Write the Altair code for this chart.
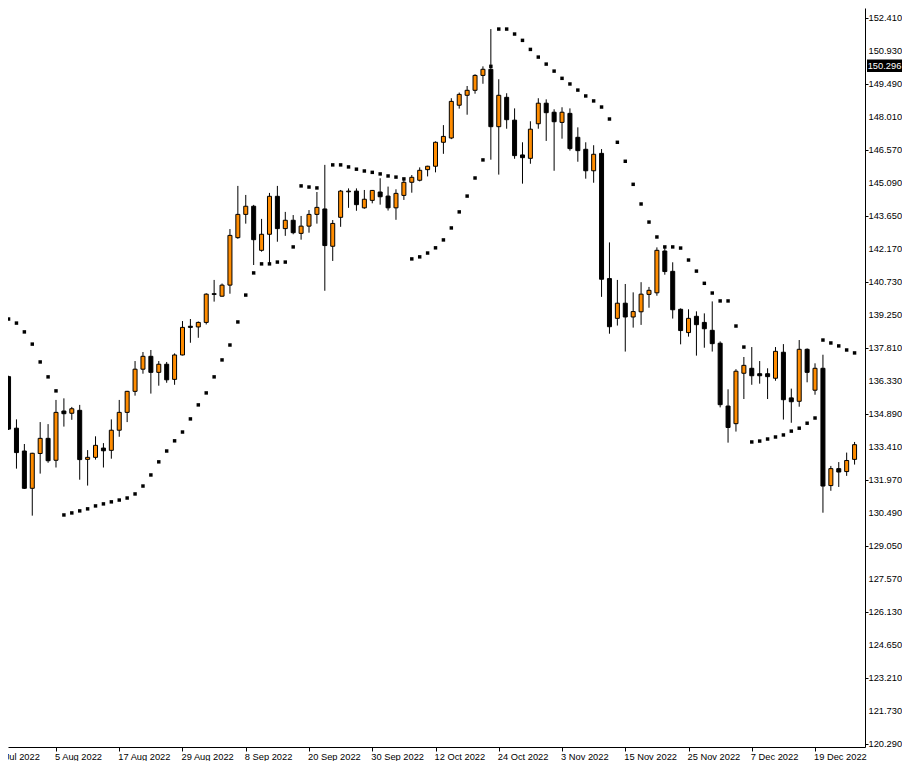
import altair as alt
import pandas as pd

# ---- data (USDJPY daily, 28 Jul 2022 .. 26 Dec 2022) ----
opens = [136.54, 134.26, 133.25, 131.60, 133.14, 133.81, 132.84, 135.02, 134.92, 135.05,
         132.88, 132.97, 133.38, 133.28, 134.17, 134.96, 135.89, 136.87, 137.44, 136.73,
         137.09, 136.42, 137.50, 138.77, 138.74, 138.94, 140.21, 140.10, 140.59, 142.69,
         143.72, 144.08, 142.13, 142.84, 144.52, 143.09, 143.46, 142.88, 143.20, 143.72,
         143.96, 142.31, 143.59, 144.72, 144.75, 144.01, 144.34, 144.71, 144.53, 144.01,
         144.56, 145.14, 145.23, 145.70, 145.85, 146.91, 147.10, 148.55, 148.99, 149.21,
         149.87, 150.14, 147.60, 148.90, 147.89, 146.35, 146.20, 147.73, 148.64, 148.24,
         147.79, 148.19, 147.13, 146.60, 145.65, 146.42, 140.88, 139.12, 139.79, 139.18,
         139.41, 140.18, 140.25, 142.10, 141.20, 139.52, 138.49, 139.21, 138.94, 138.59,
         138.02, 135.24, 134.46, 136.69, 136.91, 136.67, 136.67, 136.47, 137.62, 135.60,
         135.45, 137.75, 135.94, 136.91, 131.72, 132.47, 132.34, 132.88]
highs = [136.58, 134.65, 133.56, 133.17, 134.53, 134.44, 135.51, 135.58, 135.20, 135.29,
         133.29, 133.90, 133.60, 134.65, 135.51, 135.91, 137.23, 137.63, 137.72, 137.23,
         137.19, 137.57, 139.00, 139.09, 138.98, 140.23, 140.82, 140.66, 143.07, 144.98,
         144.58, 144.14, 143.52, 144.67, 144.98, 143.83, 143.69, 143.65, 143.91, 144.71,
         145.91, 143.47, 144.80, 144.87, 144.87, 144.80, 144.80, 145.32, 144.95, 144.83,
         145.32, 145.46, 145.80, 145.87, 146.95, 147.67, 148.86, 149.11, 149.40, 149.92,
         150.27, 151.92, 149.70, 149.08, 148.41, 146.91, 147.84, 148.86, 148.81, 148.37,
         148.46, 148.41, 147.57, 146.91, 146.78, 146.61, 142.48, 140.82, 140.64, 140.27,
         140.72, 140.51, 142.26, 142.26, 141.60, 139.56, 139.52, 139.43, 139.34, 139.87,
         138.10, 135.98, 136.87, 137.41, 137.85, 137.23, 136.91, 137.85, 137.98, 136.01,
         138.16, 137.79, 137.13, 137.51, 132.59, 132.76, 133.18, 133.65]
lows = [134.18, 132.47, 131.57, 130.39, 132.25, 132.73, 132.52, 134.33, 134.63, 131.98,
        131.72, 132.87, 132.52, 132.91, 133.88, 134.53, 135.70, 136.67, 135.79, 136.14,
        136.27, 136.18, 137.48, 138.04, 138.26, 138.85, 139.86, 140.08, 140.21, 142.64,
        143.31, 141.48, 142.07, 141.48, 142.51, 142.77, 142.84, 142.60, 142.91, 143.31,
        140.34, 141.66, 143.17, 144.01, 143.88, 143.97, 144.21, 144.15, 143.89, 143.48,
        144.36, 144.68, 145.18, 145.40, 145.58, 146.40, 147.05, 148.40, 148.13, 149.06,
        149.50, 146.14, 145.48, 147.51, 146.18, 145.08, 145.96, 147.51, 146.97, 145.65,
        147.07, 146.54, 146.05, 145.30, 145.12, 140.07, 138.44, 138.80, 137.65, 138.71,
        138.83, 139.59, 140.12, 141.05, 139.11, 137.97, 138.31, 137.47, 137.82, 137.65,
        135.18, 133.62, 134.11, 135.55, 136.18, 136.23, 135.55, 136.36, 134.64, 134.50,
        135.21, 136.29, 135.74, 130.52, 131.49, 131.66, 132.15, 132.65]
closes = [134.22, 133.18, 131.60, 133.15, 133.81, 132.82, 134.96, 134.90, 135.12, 132.87,
          132.97, 133.50, 133.26, 134.17, 134.96, 135.89, 136.87, 137.44, 136.73, 137.09,
          136.40, 137.50, 138.72, 138.72, 138.94, 140.19, 140.18, 140.59, 142.79, 143.72,
          144.08, 142.60, 142.84, 144.52, 143.09, 143.46, 142.91, 143.20, 143.72, 144.03,
          142.34, 143.32, 144.75, 144.75, 144.15, 144.39, 144.78, 144.50, 144.01, 144.65,
          145.14, 145.36, 145.67, 145.85, 146.91, 147.17, 148.72, 149.03, 149.21, 149.87,
          150.14, 147.60, 148.99, 147.91, 146.32, 146.23, 147.49, 148.64, 148.22, 147.82,
          148.24, 146.63, 146.54, 145.65, 146.38, 140.85, 138.75, 139.79, 139.18, 139.42,
          140.19, 140.36, 142.13, 141.19, 139.50, 138.58, 139.12, 138.84, 138.66, 138.00,
          135.30, 134.29, 136.78, 137.04, 136.58, 136.58, 136.54, 137.66, 135.52, 135.43,
          137.75, 136.73, 136.91, 131.70, 132.47, 132.32, 132.83, 133.53]
# Parabolic SAR (None = no dot drawn)
sar = [139.09, 138.91, 138.52, 137.98, 137.19, 136.53, 135.91, 130.42, 130.51, 130.60,
       130.69, 130.82, 130.91, 131.00, 131.08, 131.17, 131.35, 131.70, 132.19, 132.77,
       133.25, 133.70, 134.09, 134.67, 135.29, 135.82, 136.53, 137.28, 137.94, 138.96,
       140.15, 141.13, 141.53, 141.53, 141.61, 141.61, 142.28, 144.98, 144.93, 144.89,
       None, 145.91, 145.91, 145.82, 145.72, 145.64, 145.58, 145.51, 145.42, 145.37,
       145.29, 141.75, 141.84, 142.01, 142.24, 142.59, 143.12, 143.83, 144.53, 145.33,
       146.13, 150.27, 151.92, 151.92, 151.70, 151.42, 151.02, 150.68, 150.37, 150.06,
       149.74, 149.49, 149.22, 148.96, 148.74, 148.47, 147.94, 146.91, 146.07, 145.05,
       144.18, 143.38, 142.72, 142.28, 142.28, 142.23, 141.70, 141.21, 140.67, 140.24,
       139.89, 139.89, 138.78, 137.85, 133.65, 133.69, 133.78, 133.87, 133.96, 134.13,
       134.26, 134.48, 134.71, 138.16, 138.03, 137.90, 137.72, 137.59]

date_tick_index = [-2, 6, 14, 22, 30, 38, 46, 54, 62, 70, 78, 86, 94, 102]
date_tick_labels = ["26 Jul 2022", "5 Aug 2022", "17 Aug 2022", "29 Aug 2022", "8 Sep 2022",
                    "20 Sep 2022", "30 Sep 2022", "12 Oct 2022", "24 Oct 2022", "3 Nov 2022",
                    "15 Nov 2022", "25 Nov 2022", "7 Dec 2022", "19 Dec 2022"]
price_ticks = [120.29, 121.73, 123.21, 124.65, 126.13, 127.57, 129.05, 130.49, 131.97,
               133.41, 134.89, 136.33, 137.81, 139.25, 140.73, 142.17, 143.65, 145.09,
               146.57, 148.01, 149.49, 150.93, 152.41]
current_price = [150.296]
current_price_label = ["150.296"]

# ---- tables ----
n = len(opens)
df = pd.DataFrame({
    "i": list(range(n)),
    "open": opens, "high": highs, "low": lows, "close": closes,
    "sar": sar,
})
df["dir"] = ["up" if c >= o else "down" for o, c in zip(opens, closes)]
ticks_df = pd.DataFrame({"i": date_tick_index, "label": date_tick_labels})
pticks_df = pd.DataFrame({"p": price_ticks})
price_df = pd.DataFrame({"p": current_price, "label": current_price_label})

FONT = "Liberation Sans"
FS = 9.3

xs = alt.Scale(domain=[0.5625, 107.6875], nice=False, zero=False)
ys = alt.Scale(domain=[120.153, 152.852], nice=False, zero=False)

X = alt.X("i:Q", scale=xs,
          axis=alt.Axis(values=[v for v in date_tick_index if v >= 1], labels=False,
                        tickSize=4, tickColor="black", domainColor="black",
                        grid=False, title=None, orient="bottom"))
Y_axis = alt.Axis(values=price_ticks, labels=False, orient="right", tickSize=3,
                  tickColor="black", domainColor="black", grid=False, title=None)

base = alt.Chart(df)

wicks = base.mark_rule(color="black", strokeWidth=1, clip=True).encode(
    x=X,
    y=alt.Y("low:Q", scale=ys, axis=Y_axis),
    y2="high:Q",
)

bodies = base.mark_bar(size=4, stroke="black", strokeWidth=1, clip=True, opacity=1).encode(
    x=alt.X("i:Q", scale=xs),
    y=alt.Y("open:Q", scale=ys),
    y2="close:Q",
    color=alt.Color("dir:N", scale=alt.Scale(domain=["up", "down"],
                                            range=["#FF8C00", "#000000"]), legend=None),
)

sar_dots = base.mark_square(size=12, color="black", opacity=1, filled=True, clip=True).encode(
    x=alt.X("i:Q", scale=xs),
    y=alt.Y("sar:Q", scale=ys),
)

date_labels = alt.Chart(ticks_df).mark_text(
    align="left", baseline="alphabetic", dx=-1, font=FONT, fontSize=FS, color="black"
).encode(
    x=alt.X("i:Q", scale=xs),
    y=alt.value(751.5),
    text="label:N",
)

price_labels = alt.Chart(pticks_df).mark_text(
    align="left", baseline="middle", font=FONT, fontSize=FS, color="black"
).encode(
    x=alt.value(860.5),
    y=alt.Y("p:Q", scale=ys),
    text=alt.Text("p:Q", format=".3f"),
)

box_path = "M-1,-0.36L1,-0.36L1,0.36L-1,0.36Z"
price_box = alt.Chart(price_df).mark_point(
    shape=box_path, size=35 * 35, filled=True, color="black", opacity=1
).encode(
    x=alt.value(876.5),
    y=alt.Y("p:Q", scale=ys),
)
price_text = alt.Chart(price_df).mark_text(
    align="center", baseline="middle", font=FONT, fontSize=FS, color="white"
).encode(
    x=alt.value(876.5),
    y=alt.Y("p:Q", scale=ys),
    text="label:N",
)

chart = alt.layer(
    wicks, bodies, sar_dots, date_labels, price_labels, price_box, price_text
).properties(
    width=857, height=739,
    autosize=alt.AutoSizeParams(type="none"),
    padding={"left": 0, "top": 0, "right": 37, "bottom": 14},
    background="white",
).configure_view(stroke=None)

chart.save("out.html", embed_options={"renderer": "svg", "actions": False})
